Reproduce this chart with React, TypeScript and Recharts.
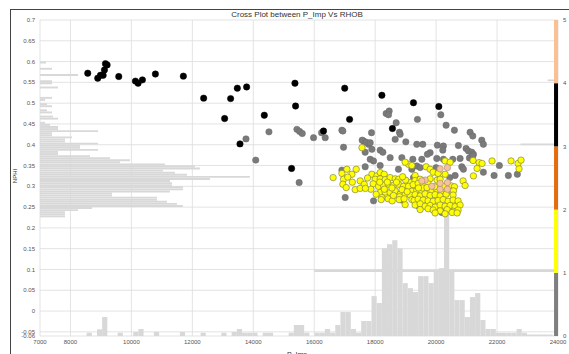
import React from 'react'
import { ComposedChart, Scatter, XAxis, YAxis, CartesianGrid, ReferenceArea } from 'recharts'

const X_TICKS = [7000, 8000, 10000, 12000, 14000, 16000, 18000, 20000, 22000, 24000]
const Y_TICKS = [-0.06, -0.05, 0, 0.05, 0.1, 0.15, 0.2, 0.25, 0.3, 0.35, 0.4, 0.45, 0.5, 0.55, 0.6, 0.65, 0.7]
const FACIES_TICKS = [0, 1, 2, 3, 4, 5]
const FACIES_COLORS = ['#7f7f7f', '#ffff00', '#e46c0a', '#000000', '#fac090']

// NPHI histogram (left side), bin start + frequency
const NPHI_BINS = [
  0.225, 0.23, 0.235, 0.24, 0.245, 0.25, 0.255, 0.26, 0.265, 0.27, 0.275, 0.28, 0.285, 0.29, 0.295,
  0.3, 0.305, 0.31, 0.315, 0.32, 0.325, 0.33, 0.335, 0.34, 0.345, 0.35, 0.355, 0.36, 0.365, 0.37,
  0.375, 0.38, 0.385, 0.39, 0.395, 0.4, 0.405, 0.41, 0.415, 0.42, 0.425, 0.43, 0.435, 0.44, 0.445,
  0.45, 0.46, 0.465, 0.475, 0.48, 0.49, 0.495, 0.505, 0.51, 0.535, 0.545, 0.55, 0.565, 0.58, 0.595,
]
const NPHI_FREQ = [
  25, 25, 25, 38, 52, 143, 137, 127, 117, 117, 72, 72, 130, 143, 143,
  132, 132, 130, 170, 210, 147, 135, 123, 160, 155, 125, 80, 90, 70, 50,
  18, 18, 58, 40, 40, 58, 25, 25, 32, 12, 12, 58, 18, 18, 10,
  5, 18, 13, 12, 7, 12, 7, 5, 12, 18, 12, 12, 38, 12, 6,
]
const NPHI_BIN_WIDTH = 0.005
const NPHI_FREQ_UNIT = 32.8 // P_Imp units per count

// P_Imp histogram (bottom), bin start + frequency
const PIMP_BINS = [
  8530, 8870, 9040, 9550, 10060, 10230, 10740, 11590, 12270, 12950, 13290, 13460, 13630, 13800, 13970,
  14310, 14480, 15160, 15330, 15500, 15670, 16010, 16180, 16350, 16520, 16690, 16860, 17030, 17200, 17370,
  17540, 17710, 17880, 18050, 18220, 18390, 18560, 18730, 18900, 19070, 19240, 19410, 19580, 19750, 19920,
  20090, 20260, 20430, 20600, 20770, 20940, 21110, 21280, 21450, 21620, 21790, 21960, 22130, 22300, 22470,
  22640, 22810, 22980, 23150, 23320, 23490, 23660,
]
const PIMP_FREQ = [
  3.3, 6.7, 19, 3.3, 4, 7, 4, 4, 3.3, 3.3, 4, 7, 3.3, 3.3, 3.3,
  3.3, 3.3, 3.3, 11, 11, 3.3, 3.3, 3.3, 7, 3.3, 11, 24, 24, 7, 3.3,
  15, 15, 40, 33, 88, 92, 96, 88, 53, 48, 44, 60, 60, 53, 66,
  68, 130, 66, 36, 36, 19, 39, 43, 16, 7, 7, 3.3, 3.3, 3.3, 3.3,
  7, 3.3, 1.5, 1.5, 1.5, 1.5, 1.5,
]
const PIMP_BIN_WIDTH = 170
const PIMP_FREQ_UNIT = 0.0024 // NPHI units per count

// stray long bars: [x1, x2, y1, y2]
const EXTRA_BARS = [
  [16000, 24000, 0.094, 0.1],
  [22770, 24000, 0.399, 0.403],
  [23660, 24000, 0.553, 0.557],
]

const BLACK_PTS = [
  [8567, 0.572], [8895, 0.56], [8984, 0.567], [9072, 0.567], [9115, 0.58], [9148, 0.595], [9203, 0.592],
  [9585, 0.564], [10131, 0.553], [10219, 0.548], [10361, 0.556], [10787, 0.57], [11705, 0.565],
  [12371, 0.512], [13256, 0.511], [13476, 0.536], [13781, 0.539], [13059, 0.463], [14361, 0.471],
  [13563, 0.402], [15367, 0.548], [15387, 0.493], [15256, 0.343], [17000, 0.536], [17160, 0.461],
  [16305, 0.433], [18220, 0.519], [19256, 0.501], [20088, 0.492], [18567, 0.439], [19256, 0.306],
]

const GRAY_PTS = [
  [13760, 0.414], [14080, 0.363], [14514, 0.431], [15432, 0.437], [15520, 0.432], [15607, 0.427],
  [15505, 0.309], [15977, 0.417], [16240, 0.429], [16360, 0.417], [16908, 0.435], [16962, 0.394],
  [17617, 0.409], [17781, 0.401], [18360, 0.475], [18459, 0.481], [18437, 0.472], [18689, 0.453],
  [19387, 0.461], [20154, 0.472], [16940, 0.433], [17880, 0.429], [18797, 0.43], [18820, 0.425],
  [20327, 0.447], [20600, 0.435], [21115, 0.43], [21203, 0.421], [21498, 0.411], [21551, 0.401],
  [17574, 0.411], [17706, 0.406], [17837, 0.405], [18656, 0.413], [19006, 0.407], [19366, 0.401],
  [19563, 0.401], [20042, 0.399], [20239, 0.397], [20219, 0.387], [20731, 0.398], [20984, 0.391],
  [21061, 0.385], [21171, 0.382], [21224, 0.377], [17672, 0.382], [17892, 0.389], [18164, 0.387],
  [18252, 0.382], [19803, 0.381], [19715, 0.377], [18492, 0.369], [18875, 0.369], [19236, 0.365],
  [19531, 0.365], [20022, 0.367], [20239, 0.365], [20547, 0.365], [20787, 0.367], [21093, 0.368],
  [21203, 0.373], [17837, 0.365], [17946, 0.361], [17672, 0.347], [18164, 0.35], [18764, 0.341],
  [19203, 0.341], [19366, 0.349], [19476, 0.345], [20000, 0.345], [20842, 0.347], [20896, 0.341],
  [21551, 0.334], [21902, 0.326], [22371, 0.326], [22666, 0.329], [22076, 0.35], [16908, 0.339],
  [20448, 0.321], [20623, 0.326], [19256, 0.321], [19367, 0.317], [17016, 0.273], [17946, 0.265],
  [18875, 0.267], [19420, 0.253], [20188, 0.237], [20350, 0.246], [19420, 0.274],
]

const YELLOW_PTS = [
  [17565, 0.393], [20295, 0.361], [20459, 0.358], [21213, 0.362], [21410, 0.357], [21508, 0.355],
  [21836, 0.361], [22459, 0.361], [22689, 0.355], [22721, 0.342], [22787, 0.363], [21344, 0.343],
  [21224, 0.325], [19091, 0.353], [19203, 0.35], [18984, 0.358], [19673, 0.347],
  [16620, 0.321], [16908, 0.331], [17072, 0.341], [17377, 0.341], [17236, 0.329], [17892, 0.329],
  [18055, 0.325], [18164, 0.333], [18295, 0.329], [19311, 0.326], [19803, 0.341], [19902, 0.334],
  [20066, 0.331], [20295, 0.329],
  [16962, 0.317], [17508, 0.313], [18000, 0.317], [18164, 0.318], [18328, 0.316], [18492, 0.321],
  [18656, 0.318], [18765, 0.317], [19148, 0.309], [19311, 0.314], [19475, 0.317], [19639, 0.313],
  [19803, 0.318], [20033, 0.315], [20131, 0.317], [20885, 0.313],
  [16940, 0.305], [17640, 0.305], [17934, 0.306], [18108, 0.3], [18273, 0.302], [18437, 0.305],
  [18601, 0.302], [18765, 0.305], [18929, 0.3], [19093, 0.3], [19246, 0.304], [19410, 0.307],
  [19574, 0.303], [19738, 0.306], [20361, 0.305], [20492, 0.301], [20951, 0.302], [20600, 0.299],
  [17049, 0.297], [17344, 0.292], [17508, 0.295], [17859, 0.293], [18164, 0.285], [18328, 0.286],
  [18492, 0.285], [18656, 0.289], [18820, 0.281], [18984, 0.281], [19203, 0.288], [19367, 0.29],
  [19531, 0.287], [19695, 0.289], [19859, 0.29], [20023, 0.291], [20187, 0.288], [20351, 0.287],
  [20568, 0.289],
  [18033, 0.281], [18219, 0.273], [18547, 0.273], [18797, 0.275], [19148, 0.279], [19311, 0.28],
  [19475, 0.277], [19639, 0.282], [19803, 0.278], [19967, 0.28], [20131, 0.277], [20328, 0.281],
  [20557, 0.279],
  [18197, 0.268], [18426, 0.27], [18557, 0.265], [18787, 0.268], [19203, 0.268], [19279, 0.266],
  [19410, 0.269], [19574, 0.267], [19738, 0.265], [19902, 0.264], [20066, 0.266], [20230, 0.268],
  [20393, 0.264], [20557, 0.267], [20721, 0.265],
  [18984, 0.256], [19311, 0.255], [19475, 0.258], [19639, 0.252], [19803, 0.254], [19967, 0.25],
  [20131, 0.255], [20295, 0.252], [20459, 0.254], [20623, 0.251], [20787, 0.255],
  [19475, 0.244], [19738, 0.246], [19902, 0.243], [20131, 0.241], [20361, 0.244], [20557, 0.24],
  [20721, 0.243], [19967, 0.236], [20295, 0.234], [20525, 0.237], [20689, 0.236],
  [18400, 0.31], [18550, 0.296], [18700, 0.31], [18880, 0.292], [18300, 0.293], [18150, 0.31],
  [19000, 0.315], [18900, 0.323], [19550, 0.296], [19700, 0.297], [19950, 0.299], [20250, 0.3],
  [19420, 0.296], [18600, 0.278], [18950, 0.27], [19050, 0.287], [17750, 0.32], [17680, 0.295],
  [17250, 0.31], [17100, 0.322],
]

const PEACH_PTS = [
  [20131, 0.342], [20371, 0.345], [19640, 0.315], [19531, 0.313], [19859, 0.3], [20131, 0.293],
  [20371, 0.293], [20371, 0.309], [20131, 0.307],
]

// ends of the facies colour bar, so its axis has something to scale
const FACIES_RANGE = [
  { x: 24000, f: 0 },
  { x: 24000, f: 5 },
]

const toXY = (pts: number[][]) => pts.map(p => ({ x: p[0], y: p[1] }))

const dot = (fill: string, stroke: string, sw: number) => (props: any) => (
  <circle cx={props.cx} cy={props.cy} r={3.2} fill={fill} stroke={stroke} strokeWidth={sw} />
)

const HIST_FILL = '#d8d8d8'
const tickStyle = { fontSize: 6, fill: '#555' }

export default function App() {
  return (
    <div style={{ position: 'relative', width: 569, height: 354, background: '#fff', fontFamily: '"Liberation Sans", Arial, sans-serif', overflow: 'hidden' }}>
      <style>{'body{margin:0}'}</style>
      <ComposedChart width={569} height={354} margin={{ top: 20, right: 0, bottom: 0, left: 10 }}>
        <CartesianGrid stroke="#dcdcdc" strokeWidth={0.8} />
        <XAxis
          type="number"
          dataKey="x"
          domain={[7000, 24000]}
          ticks={X_TICKS}
          interval={0}
          height={18}
          tick={tickStyle}
          tickLine={false}
          axisLine={false}
          tickSize={2}
          tickMargin={2}
          allowDataOverflow
        />
        <YAxis
          type="number"
          domain={[-0.06, 0.7]}
          ticks={Y_TICKS}
          interval={0}
          width={30}
          tick={tickStyle}
          tickLine={false}
          axisLine={false}
          tickSize={3}
          tickMargin={2}
          allowDataOverflow
        />
        <YAxis
          yAxisId="cb"
          orientation="right"
          type="number"
          dataKey="f"
          domain={[0, 5]}
          ticks={FACIES_TICKS}
          interval={0}
          width={11}
          tick={tickStyle}
          tickLine={false}
          axisLine={false}
          tickSize={3}
          tickMargin={2}
          allowDataOverflow
        />
        {NPHI_BINS.map((b, i) => (
          <ReferenceArea
            key={'nh' + i}
            x1={7000}
            x2={7000 + NPHI_FREQ[i] * NPHI_FREQ_UNIT}
            y1={b + 0.0004}
            y2={b + NPHI_BIN_WIDTH}
            fill={HIST_FILL}
            fillOpacity={1}
            stroke="none"
          />
        ))}
        {PIMP_BINS.map((b, i) => (
          <ReferenceArea
            key={'ph' + i}
            x1={b}
            x2={b + PIMP_BIN_WIDTH}
            y1={-0.06}
            y2={-0.06 + PIMP_FREQ[i] * PIMP_FREQ_UNIT}
            fill={HIST_FILL}
            fillOpacity={1}
            stroke="none"
          />
        ))}
        {EXTRA_BARS.map((r, i) => (
          <ReferenceArea key={'eb' + i} x1={r[0]} x2={r[1]} y1={r[2]} y2={r[3]} fill={HIST_FILL} fillOpacity={1} stroke="none" />
        ))}
        <Scatter yAxisId="cb" data={FACIES_RANGE} dataKey="f" shape={() => <g />} isAnimationActive={false} />
        {FACIES_COLORS.map((c, i) => (
          <ReferenceArea
            key={'cb' + i}
            yAxisId="cb"
            x1={23870}
            x2={24000}
            y1={i}
            y2={i + 1}
            fill={c}
            fillOpacity={1}
            stroke="none"
            ifOverflow="visible"
          />
        ))}
        <Scatter data={toXY(GRAY_PTS)} dataKey="y" shape={dot('#7a7a7a', '#6a6a6a', 0.5)} isAnimationActive={false} />
        <Scatter data={toXY(BLACK_PTS)} dataKey="y" shape={dot('#000000', '#000000', 0.5)} isAnimationActive={false} />
        <Scatter data={toXY(YELLOW_PTS)} dataKey="y" shape={dot('#ffff00', '#85854a', 0.7)} isAnimationActive={false} />
        <Scatter data={toXY(PEACH_PTS)} dataKey="y" shape={dot('#f7c19b', '#a08878', 0.6)} isAnimationActive={false} />
      </ComposedChart>
      <svg width={569} height={354} style={{ position: 'absolute', left: 0, top: 0, pointerEvents: 'none' }}>
        <line x1={10} y1={9.5} x2={569} y2={9.5} stroke="#444" strokeWidth={1} />
        <line x1={10.5} y1={9} x2={10.5} y2={354} stroke="#444" strokeWidth={1} />
        <text x={297} y={17} fontSize={8} fill="#333" textAnchor="middle">Cross Plot between P_Imp Vs RHOB</text>
        <text x={15} y={176} fontSize={6} fill="#333" textAnchor="middle" dominantBaseline="middle" transform="rotate(-90, 15, 176)">NPHI</text>
        <text x={297} y={357} fontSize={7} fill="#333" textAnchor="middle">P_Imp</text>
      </svg>
    </div>
  )
}
